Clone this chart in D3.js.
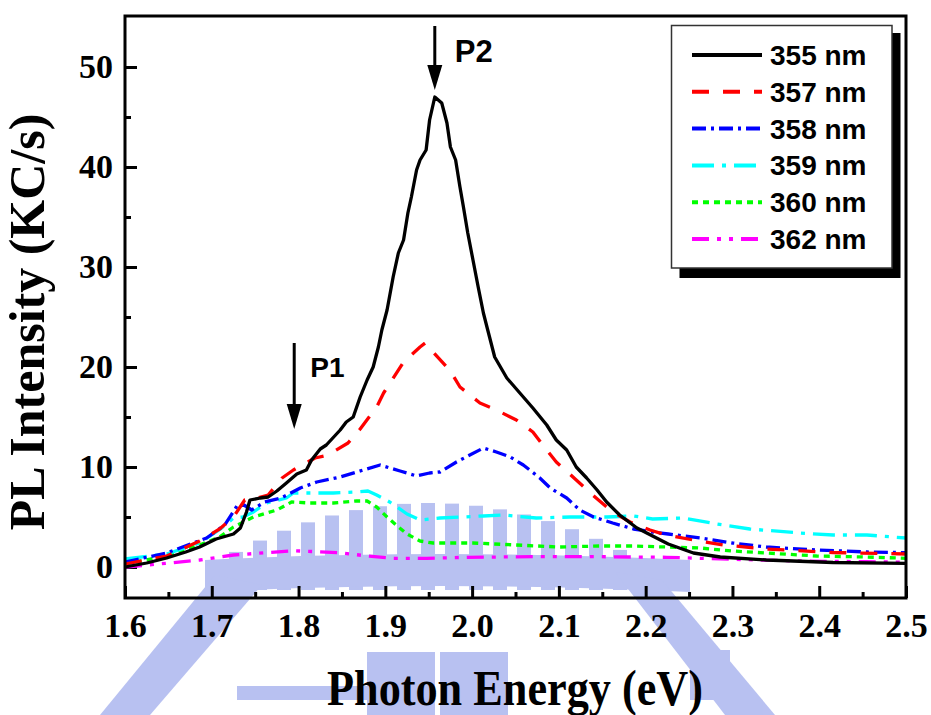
<!DOCTYPE html>
<html>
<head>
<meta charset="utf-8">
<script src="https://cdn.jsdelivr.net/npm/d3@7"></script>
<style>
  html, body { margin: 0; padding: 0; background: #fff; }
  svg { display: block; }
</style>
</head>
<body>
<svg id="chart" width="931" height="715"></svg>
<script>
// ---- Data: photon energy (eV) vs PL intensity (KC/s), per excitation wavelength ----
const series355 = [
  [1.600,0.0],[1.625,0.4],[1.648,0.9],[1.670,1.5],[1.686,2.0],[1.705,2.8],[1.725,3.3],[1.733,3.9],
  [1.740,5.5],[1.744,6.7],[1.756,6.9],[1.765,7.0],[1.775,7.6],[1.786,8.4],[1.798,9.3],[1.809,9.7],
  [1.815,10.7],[1.825,11.8],[1.832,12.2],[1.848,13.7],[1.855,14.5],[1.863,15.0],[1.871,17.0],
  [1.879,18.7],[1.886,20.0],[1.892,22.0],[1.896,23.7],[1.902,25.7],[1.909,29.0],[1.915,31.4],
  [1.921,32.7],[1.926,35.4],[1.930,37.0],[1.936,39.7],[1.940,40.7],[1.947,41.7],[1.951,44.7],
  [1.957,47.0],[1.965,46.4],[1.971,44.4],[1.975,42.0],[1.981,40.7],[1.986,38.0],[1.990,36.0],
  [1.995,33.4],[2.001,30.7],[2.007,28.0],[2.013,25.4],[2.018,23.7],[2.026,21.0],[2.040,18.9],
  [2.055,17.4],[2.070,15.9],[2.086,14.2],[2.097,12.7],[2.109,11.7],[2.120,10.0],[2.132,8.9],
  [2.144,7.7],[2.155,6.5],[2.170,5.2],[2.190,3.9],[2.208,3.1],[2.226,2.3],[2.255,1.4],[2.286,1.0],
  [2.339,0.7],[2.416,0.45],[2.500,0.37]
];
const series357 = [
  [1.600,0.3],[1.648,1.1],[1.686,2.6],[1.709,3.8],[1.725,5.0],[1.738,6.7],[1.753,6.9],[1.765,7.2],
  [1.781,8.9],[1.794,9.7],[1.819,10.9],[1.834,11.2],[1.857,12.4],[1.871,13.8],[1.890,16.0],
  [1.898,17.4],[1.921,20.5],[1.940,22.0],[1.946,22.4],[1.955,21.5],[1.975,19.6],[1.986,18.0],
  [2.009,16.4],[2.028,15.7],[2.051,14.7],[2.070,13.5],[2.086,11.7],[2.097,10.5],[2.120,8.7],
  [2.139,7.2],[2.162,5.5],[2.182,4.5],[2.205,3.7],[2.224,3.2],[2.255,2.7],[2.290,2.2],[2.339,1.8],
  [2.416,1.45],[2.500,1.3]
];
const series358 = [
  [1.600,0.5],[1.648,1.4],[1.694,2.9],[1.715,4.2],[1.729,6.1],[1.737,6.2],[1.746,5.7],[1.761,6.5],
  [1.780,6.9],[1.802,7.9],[1.821,8.5],[1.848,9.0],[1.867,9.5],[1.894,10.2],[1.917,9.6],[1.936,9.1],
  [1.951,9.4],[1.963,9.5],[1.982,10.5],[2.013,11.9],[2.028,11.5],[2.044,11.0],[2.059,10.2],
  [2.078,8.9],[2.090,7.9],[2.109,6.9],[2.124,5.7],[2.140,5.0],[2.162,4.4],[2.186,3.8],[2.208,3.5],
  [2.226,3.3],[2.263,2.9],[2.300,2.4],[2.339,2.0],[2.397,1.7],[2.455,1.5],[2.500,1.43]
];
const series359 = [
  [1.600,0.8],[1.648,1.3],[1.686,2.4],[1.710,3.8],[1.725,4.9],[1.736,5.0],[1.748,5.5],[1.763,6.4],
  [1.786,6.9],[1.794,7.4],[1.817,7.4],[1.840,7.4],[1.867,7.5],[1.880,7.6],[1.890,7.2],[1.905,6.5],
  [1.925,5.3],[1.940,4.7],[1.963,4.9],[2.013,5.1],[2.036,5.2],[2.074,4.9],[2.113,5.0],[2.155,5.0],
  [2.186,5.1],[2.208,4.8],[2.243,4.9],[2.282,4.3],[2.320,3.8],[2.378,3.4],[2.416,3.2],[2.455,3.2],
  [2.500,2.9]
];
const series360 = [
  [1.600,0.3],[1.648,1.1],[1.686,2.2],[1.709,3.0],[1.725,4.0],[1.748,5.0],[1.775,5.7],[1.792,6.5],
  [1.813,6.4],[1.840,6.4],[1.867,6.6],[1.879,6.6],[1.890,6.0],[1.902,5.0],[1.915,4.0],[1.925,3.3],
  [1.940,2.6],[1.955,2.4],[2.001,2.4],[2.051,2.2],[2.101,2.0],[2.147,2.1],[2.185,2.1],[2.224,2.0],
  [2.263,1.9],[2.300,1.6],[2.339,1.4],[2.397,1.1],[2.455,1.0],[2.500,0.87]
];
const series362 = [
  [1.600,0.0],[1.648,0.37],[1.686,0.7],[1.725,1.2],[1.763,1.43],[1.794,1.63],[1.821,1.53],
  [1.848,1.43],[1.879,1.1],[1.909,0.87],[1.948,0.87],[1.994,0.97],[2.070,1.03],[2.147,1.03],
  [2.224,0.97],[2.300,0.77],[2.378,0.6],[2.455,0.53],[2.500,0.47]
];

const seriesLabels = ["355 nm", "357 nm", "358 nm", "359 nm", "360 nm", "362 nm"];
const xTickValues = [1.6, 1.7, 1.8, 1.9, 2.0, 2.1, 2.2, 2.3, 2.4, 2.5];
const xMinorValues = [1.65, 1.75, 1.85, 1.95, 2.05, 2.15, 2.25, 2.35, 2.45];
const yTickValues = [0, 10, 20, 30, 40, 50];
const yMinorValues = [5, 15, 25, 35, 45];
// Peak markers: energy and intensity the arrow tip points at
const peakLabels = ["P1", "P2"];
const peakEnergy = [1.795, 1.957];
const peakTipIntensity = [13.8, 47.7];

(function draw() {
  // ---- Styles ----
  const styles = [
    { color: "#000000", dash: null },
    { color: "#ff0000", dash: "17,14" },
    { color: "#0000ff", dash: "14,5,3,5" },
    { color: "#00ffff", dash: "22,8,4,8" },
    { color: "#00ff00", dash: "6,5" },
    { color: "#ff00ff", dash: "17,8,4,8,4,8" }
  ];
  const allSeries = [series355, series357, series358, series359, series360, series362];

  const svg = d3.select("#chart");
  const plotLeft = 125, plotRight = 906, plotTop = 16, plotBottom = 598;

  const x = d3.scaleLinear().domain([1.6, 2.5]).range([plotLeft, plotRight]);
  const y = d3.scaleLinear().domain([-3.1, 55.1]).range([plotBottom, plotTop]);

  // ---- Faint background emblem ----
  const wm = svg.append("g").attr("fill", "#a7b2ee").attr("opacity", 0.8);
  for (let cx = 236; cx <= 640; cx += 24) {
    const t = 503 + 0.0013 * (cx - 430) * (cx - 430);
    wm.append("rect").attr("x", cx - 7).attr("y", t).attr("width", 14).attr("height", 590 - t);
  }
  wm.append("path").attr("d", "M205,560 Q440,548 690,560 L690,592 Q440,580 205,592 Z");
  wm.append("path").attr("d", "M215,575 L262,585 L150,715 L100,715 Z");
  wm.append("path").attr("d", "M615,572 L662,580 L775,715 L725,715 Z");
  wm.append("rect").attr("x", 367).attr("y", 652).attr("width", 68).attr("height", 63);
  wm.append("rect").attr("x", 440).attr("y", 652).attr("width", 68).attr("height", 63);
  wm.append("rect").attr("x", 237).attr("y", 686).attr("width", 133).attr("height", 14);
  wm.append("rect").attr("x", 690).attr("y", 650).attr("width", 40).attr("height", 50);

  // ---- Axes (ticks pointing inward) ----
  const fontSerif = "'Liberation Serif', 'Times New Roman', serif";
  const fontSans = "'Liberation Sans', Arial, sans-serif";

  function styleAxis(g) {
    g.select(".domain").remove();
    g.selectAll(".tick line").attr("stroke", "#000").attr("stroke-width", 3);
    g.selectAll(".tick text")
      .attr("fill", "#000")
      .style("font-family", fontSerif)
      .style("font-weight", "bold")
      .style("font-size", "34px");
  }

  svg.append("g").attr("transform", `translate(0,${plotBottom})`)
    .call(d3.axisBottom(x).tickValues(xTickValues).tickSizeInner(-12).tickSizeOuter(0)
      .tickPadding(15).tickFormat(d3.format(".1f")))
    .call(styleAxis);
  svg.append("g").attr("transform", `translate(0,${plotBottom})`)
    .call(d3.axisBottom(x).tickValues(xMinorValues).tickSizeInner(-6).tickSizeOuter(0).tickFormat(""))
    .call(styleAxis);
  svg.append("g").attr("transform", `translate(${plotLeft},0)`)
    .call(d3.axisLeft(y).tickValues(yTickValues).tickSizeInner(-12).tickSizeOuter(0)
      .tickPadding(12).tickFormat(d3.format("d")))
    .call(styleAxis);
  svg.append("g").attr("transform", `translate(${plotLeft},0)`)
    .call(d3.axisLeft(y).tickValues(yMinorValues).tickSizeInner(-6).tickSizeOuter(0).tickFormat(""))
    .call(styleAxis);

  // ---- Curves ----
  const line = d3.line().x(d => x(d[0])).y(d => y(d[1]));
  [5, 4, 3, 2, 1, 0].forEach(i => {
    svg.append("path")
      .datum(allSeries[i])
      .attr("fill", "none")
      .attr("stroke", styles[i].color)
      .attr("stroke-width", 3.3)
      .attr("stroke-linejoin", "round")
      .attr("stroke-dasharray", styles[i].dash)
      .attr("d", line);
  });

  // ---- Frame ----
  svg.append("rect")
    .attr("x", plotLeft).attr("y", plotTop)
    .attr("width", plotRight - plotLeft).attr("height", plotBottom - plotTop)
    .attr("fill", "none").attr("stroke", "#000").attr("stroke-width", 3);

  // ---- Axis titles ----
  svg.append("text")
    .attr("x", 515).attr("y", 705)
    .attr("text-anchor", "middle")
    .attr("textLength", 376).attr("lengthAdjust", "spacingAndGlyphs")
    .style("font-family", fontSerif).style("font-weight", "bold").style("font-size", "50px")
    .text("Photon Energy (eV)");
  svg.append("text")
    .attr("transform", "translate(44,322) rotate(-90)")
    .attr("text-anchor", "middle")
    .style("font-family", fontSerif).style("font-weight", "bold").style("font-size", "50px")
    .text("PL Intensity (KC/s)");

  // ---- Peak arrows ----
  const arrowLen = [86, 64];
  peakLabels.forEach((lab, i) => {
    const ax = x(peakEnergy[i]);
    const tip = y(peakTipIntensity[i]);
    const tail = tip - arrowLen[i];
    svg.append("line").attr("x1", ax).attr("x2", ax).attr("y1", tail).attr("y2", tip - 20)
      .attr("stroke", "#000").attr("stroke-width", 3);
    svg.append("path")
      .attr("d", `M${ax - 7.5},${tip - 25} L${ax + 7.5},${tip - 25} L${ax},${tip} Z`)
      .attr("fill", "#000");
    svg.append("text")
      .attr("x", ax + (i === 0 ? 16 : 20)).attr("y", tail + (i === 0 ? 34 : 36))
      .style("font-family", fontSans).style("font-weight", "bold")
      .style("font-size", i === 0 ? "28px" : "31px")
      .text(lab);
  });

  // ---- Legend ----
  const lg = svg.append("g");
  lg.append("rect").attr("x", 679.5).attr("y", 33).attr("width", 221).attr("height", 245).attr("fill", "#000");
  lg.append("rect").attr("x", 671.5).attr("y", 25.5).attr("width", 220.5).attr("height", 242.5)
    .attr("fill", "#fff").attr("stroke", "#333").attr("stroke-width", 1.5);
  seriesLabels.forEach((lab, i) => {
    const ry = 55 + i * 36.8;
    lg.append("line").attr("x1", 692).attr("x2", 762).attr("y1", ry).attr("y2", ry)
      .attr("stroke", styles[i].color).attr("stroke-width", 4)
      .attr("stroke-dasharray", styles[i].dash);
    lg.append("text").attr("x", 770).attr("y", ry + 10)
      .style("font-family", fontSans).style("font-weight", "bold").style("font-size", "28px")
      .text(lab);
  });
})();
</script>
</body>
</html>
